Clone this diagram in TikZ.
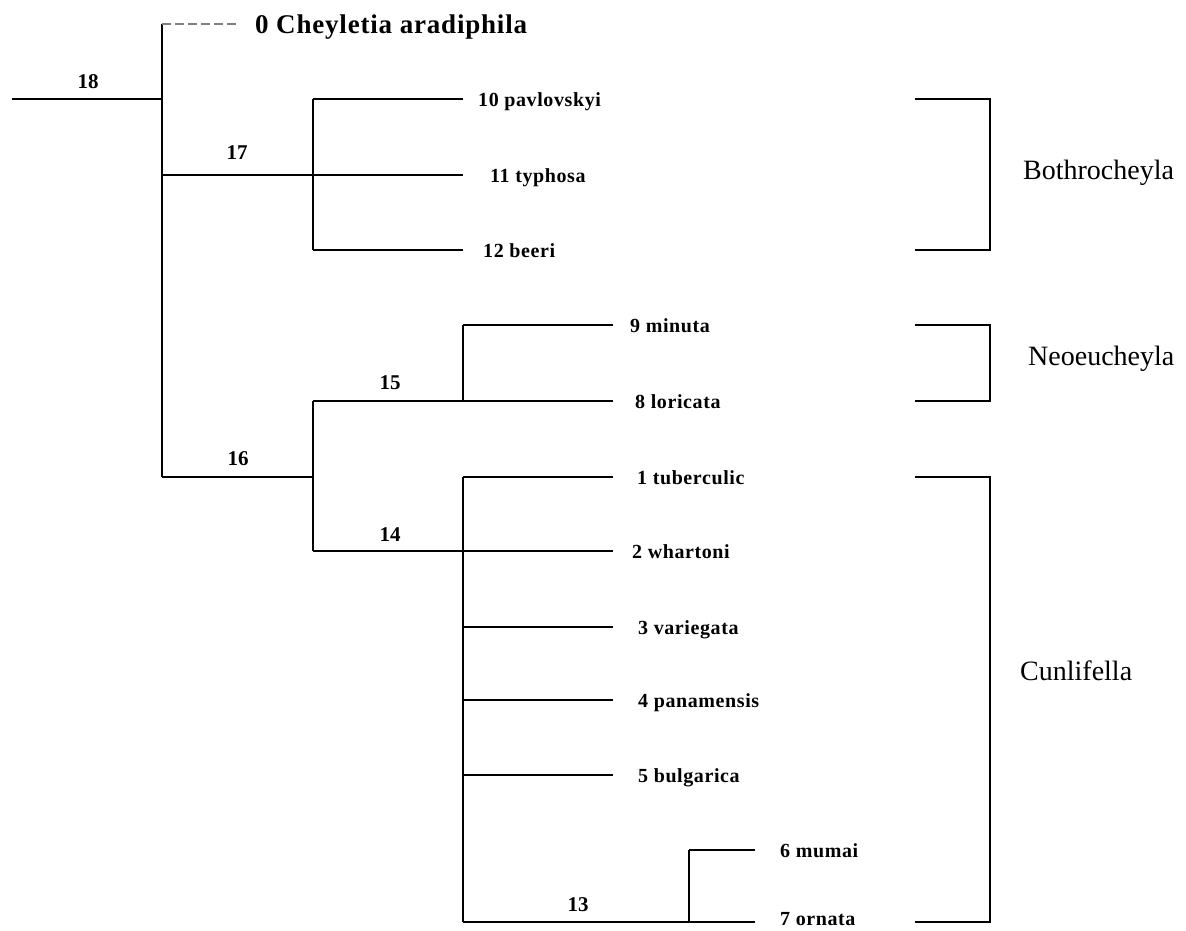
\documentclass[tikz,border=0pt]{standalone}
\usepackage{fontspec}
\setmainfont{Liberation Serif}
\usetikzlibrary{positioning}
\tikzset{
  taxon/.style={anchor=base west, inner sep=0pt, font=\bfseries\fontsize{20}{22}\selectfont\addfontfeature{LetterSpace=3}},
  outgroup/.style={anchor=base west, inner sep=0pt, font=\bfseries\fontsize{27}{30}\selectfont\addfontfeature{LetterSpace=3}},
  cladenum/.style={inner sep=0pt, font=\bfseries\fontsize{21}{23}\selectfont},
  genus/.style={anchor=base west, inner sep=0pt, font=\fontsize{28}{30}\selectfont},
  branch/.style={line width=1.4pt},
  bracket/.style={line width=1.1pt}
}
\begin{document}
\begin{tikzpicture}[x=1pt,y=-1pt]
\useasboundingbox (0,0) rectangle (1186,930);
\def\bothro{(915,99) -- (990,99) -- (990,250) -- (915,250)}
\def\neoeu{(915,325) -- (990,325) -- (990,401) -- (915,401)}
\def\cunli{(915,477) -- (990,477) -- (990,922) -- (915,922)}

% branch points
\coordinate (base) at (12,99);
\coordinate (n18) at (162,99);
\coordinate (n17) at (313,175);
\coordinate (n16) at (313,477);
\coordinate (n15) at (463,401);
\coordinate (n14) at (463,551);
\coordinate (n13) at (689,922);

% tips
\coordinate (e0) at (237,24);
\coordinate (e10) at (463,99);
\coordinate (e11) at (463,175);
\coordinate (e12) at (463,250);
\coordinate (e9) at (613,325);
\coordinate (e8) at (613,401);
\coordinate (e1) at (613,477);
\coordinate (e2) at (613,551);
\coordinate (e3) at (613,627);
\coordinate (e4) at (613,700);
\coordinate (e5) at (613,775);
\coordinate (e6) at (755,850);
\coordinate (e7) at (755,922);

\begin{scope}[branch]
\draw (base) -- (n18);
\draw (n18 |- e0) -- (n18 |- n16);
\draw[dash pattern=on 9pt off 4pt, gray] (n18 |- e0) -- (e0);
\draw (n18 |- n17) -- (e11);
\draw (n17 |- e10) -- (n17 |- e12);
\draw (n17 |- e10) -- (e10);
\draw (n17 |- e12) -- (e12);
\draw (n18 |- n16) -- (n16);
\draw (n16 |- e8) -- (n16 |- e2);
\draw (n16 |- e8) -- (e8);
\draw (n15 |- e9) -- (n15);
\draw (n15 |- e9) -- (e9);
\draw (n16 |- e2) -- (e2);
\draw (n14 |- e1) -- (n14 |- e7);
\foreach \i in {1,3,4,5}
  \draw (n14 |- e\i) -- (e\i);
\draw (n14 |- e7) -- (e7);
\draw (n13 |- e6) -- (n13);
\draw (n13 |- e6) -- (e6);
\end{scope}

\node[outgroup] (t0) at (255,33) {0 Cheyletia aradiphila};
\node[taxon] (t10) at (478,106) {10 pavlovskyi};
\node[taxon] (t11) at (490,182) {11 typhosa};
\node[taxon] (t12) at (483,257) {12 beeri};
\node[taxon] (t9) at (630,332) {9 minuta};
\node[taxon] (t8) at (635,408) {8 loricata};
\node[taxon] (t1) at (637,484) {1 tuberculic};
\node[taxon] (t2) at (632,558) {2 whartoni};
\node[taxon] (t3) at (638,634) {3 variegata};
\node[taxon] (t4) at (638,707) {4 panamensis};
\node[taxon] (t5) at (638,782) {5 bulgarica};
\node[taxon] (t6) at (780,857) {6 mumai};
\node[taxon] (t7) at (780,925) {7 ornata};

\node[cladenum] (l18) at (88,82) {18};
\node[cladenum] (l17) at (237,153) {17};
\node[cladenum] (l16) at (238,459) {16};
\node[cladenum] (l15) at (390,383) {15};
\node[cladenum] (l14) at (390,535) {14};
\node[cladenum] (l13) at (578,905) {13};

\draw[bracket] \bothro;
\draw[bracket] \neoeu;
\draw[bracket] \cunli;
\node[genus] (g1) at (1023,179) {Bothrocheyla};
\node[genus] (g2) at (1028,365) {Neoeucheyla};
\node[genus] (g3) at (1020,680) {Cunlifella};
\end{tikzpicture}
\end{document}
